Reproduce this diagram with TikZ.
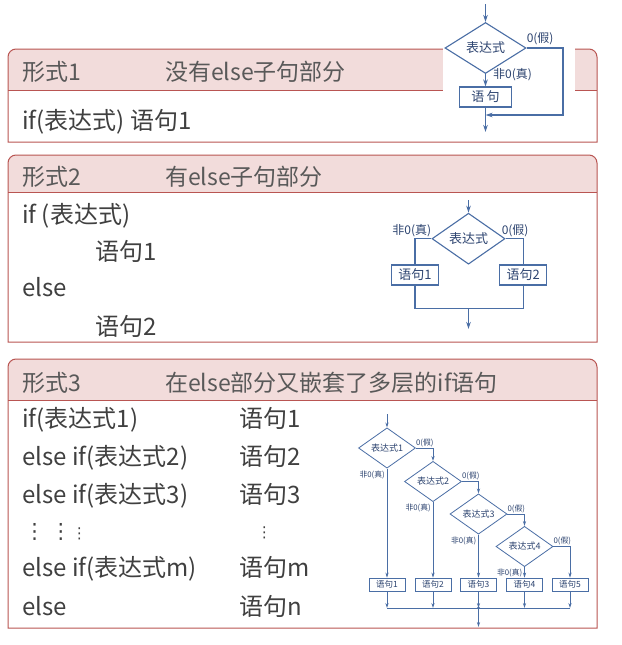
\documentclass[tikz,border=0pt]{standalone}
\usepackage{fontspec}
\setmainfont{Noto Sans CJK SC}
\newfontfamily\dv{DejaVu Sans}
\usetikzlibrary{shapes.geometric,arrows.meta}
\definecolor{hdrfill}{RGB}{242,220,219}
\definecolor{bordc}{RGB}{185,85,82}
\definecolor{hdrtxt}{RGB}{89,89,89}
\definecolor{bodytxt}{RGB}{64,64,64}
\definecolor{fcline}{RGB}{74,110,165}
\definecolor{fctxt}{RGB}{45,68,112}
\newcommand\secbox[3]{%
  \fill[hdrfill] (8,#2) -- (8,#1+8) arc[start angle=180,end angle=270,radius=8] -- (589,#1) arc[start angle=270,end angle=360,radius=8] -- (597,#2) -- cycle;
  \draw[bordc,line width=1pt] (8,#3) -- (8,#1+8) arc[start angle=180,end angle=270,radius=8] -- (589,#1) arc[start angle=270,end angle=360,radius=8] -- (597,#3) -- cycle;
  \draw[bordc,line width=1pt] (8,#2) -- (597,#2);}
\newcommand\vdotsglyph{\makebox[0pt]{⋮}}
\tikzset{
  hdr/.style={anchor=base west,text=hdrtxt,font=\fontsize{23}{26}\selectfont,inner sep=0},
  body/.style={anchor=base west,text=bodytxt,font=\fontsize{24}{27}\selectfont,inner sep=0},
  dots/.style={text=bodytxt,inner sep=0},
  fc/.style={draw=fcline,line width=1.1pt},
  fcs/.style={draw=fcline,line width=0.8pt},
  dia/.style={diamond,draw=fcline,line width=1.1pt,inner sep=0,text=fctxt,font=\fontsize{13}{14}\selectfont},
  dias/.style={diamond,draw=fcline,line width=0.8pt,inner sep=0,text=fctxt,font=\fontsize{9}{10}\selectfont,minimum width=57pt,minimum height=30pt},
  stmt/.style={rectangle,draw=fcline,line width=1.1pt,inner sep=0,text=fctxt,font=\fontsize{13}{14}\selectfont,minimum height=20pt},
  stmts/.style={rectangle,draw=fcline,line width=0.8pt,inner sep=0,text=fctxt,font=\fontsize{8.5}{9}\selectfont,minimum width=36pt,minimum height=13pt},
  arr/.style={fc,-{Stealth[length=7pt,width=4.5pt]}},
  arrs/.style={fcs,-{Stealth[length=5pt,width=3.2pt]}},
  lbl/.style={inner sep=0,text=fctxt,font=\fontsize{12}{13}\selectfont},
  lbls/.style={inner sep=0,text=fctxt,font=\fontsize{7.8}{8}\selectfont},
}
\begin{document}
\begin{tikzpicture}[x=1pt,y=-1pt]
\useasboundingbox[fill=white] (0,0) rectangle (621,645);
% ---------- section boxes
\secbox{49}{90}{142}
\secbox{155}{192}{342}
\secbox{359}{400}{628}
\fill[white] (443,0) rectangle (575,136);
% ---------- section 1 text
\node[hdr] (h1a) at (22,80.7) {形式1};
\node[hdr] (h1b) at (165,80.7) {没有else子句部分};
\node[body] (t1) at (22,129.3) {if(表达式) 语句1};
% ---------- section 2 text
\node[hdr] (h2a) at (22,185.7) {形式2};
\node[hdr] (h2b) at (165,185.7) {有else子句部分};
\node[body] (t2a) at (22,223) {if (表达式)};
\node[body] (t2b) at (95.5,260) {语句1};
\node[body] (t2c) at (22,296.7) {else};
\node[body] (t2d) at (95.5,335) {语句2};
% ---------- section 3 text
\node[hdr] (h3a) at (22,391.7) {形式3};
\node[hdr] (h3b) at (165,391.7) {在else部分又嵌套了多层的if语句};
\node[body] (r1a) at (22,427.3) {if(表达式1)};
\node[body] (r1b) at (239,427.3) {语句1};
\node[body] (r2a) at (22,465) {else if(表达式2)};
\node[body] (r2b) at (239,465) {语句2};
\node[body] (r3a) at (22,503.3) {else if(表达式3)};
\node[body] (r3b) at (239,503.3) {语句3};
\node[dots,anchor=west,font=\dv\fontsize{21}{23}\selectfont] (v1) at (34.3,531.5)
  {\vdotsglyph\hspace{26.4pt}\vdotsglyph\hspace{18.4pt}{\fontsize{15}{17}\selectfont\vdotsglyph}};
\node[dots,anchor=center,font=\dv\fontsize{15}{17}\selectfont] (v4) at (264.3,533.3) {\vdotsglyph};
\node[body] (r4a) at (22,576.7) {else if(表达式m)};
\node[body] (r4b) at (239,576.7) {语句m};
\node[body] (r5a) at (22,615) {else};
\node[body] (r5b) at (239,615) {语句n};
% ---------- flowchart 1
\coordinate (s1) at (485.5,4);
\node[dia,minimum width=81pt,minimum height=32pt] (d1) at (485.5,48) {表达式};
\draw[arr] (s1) -- (d1.north);
\node[stmt,minimum width=52pt] (b1) at (485.5,97) {语\,句};
\draw[arr] (d1.south) -- (b1.north);
\coordinate (e1) at (485.5,132);
\draw[arr] (b1.south) -- (e1);
\coordinate (c1) at (563,115);
\coordinate (j1) at (485.5,115);
\draw[arr] (d1.east) -| (c1) -- (j1);
\node[lbl,anchor=south west] (l1a) at ([yshift=3pt]d1.east) {0(假)};
\node[lbl,anchor=west] (l1b) at (493,75) {非0(真)};
% ---------- flowchart 2
\coordinate (s2) at (468.5,200);
\node[dia,minimum width=73pt,minimum height=37pt] (d2) at (468.5,238.7) {表达式};
\draw[arr] (s2) -- (d2.north);
\node[stmt,minimum width=47pt] (b2l) at (415,275) {语句1};
\node[stmt,minimum width=47pt] (b2r) at (523.3,275) {语句2};
\draw[fc] (d2.west) -| (b2l.north);
\draw[fc] (d2.east) -| (b2r.north);
\coordinate (m2) at (468.5,308.3);
\draw[fc] (b2l.south) |- (m2) -| (b2r.south);
\coordinate (e2) at (468.5,329);
\draw[arr] (m2) -- (e2);
\node[lbl,anchor=south east] (l2a) at ([yshift=1.5pt]d2.west) {非0(真)};
\node[lbl,anchor=south west] (l2b) at ([xshift=-4pt,yshift=1.5pt]d2.east) {0(假)};
% ---------- flowchart 3
\coordinate (s3) at (387,414);
\node[dias] (d31) at (387,448) {表达式1};
\node[dias] (d32) at (433,481.5) {表达式2};
\node[dias] (d33) at (478.5,514) {表达式3};
\node[dias] (d34) at (524.5,546.5) {表达式4};
\node[stmts] (b31) at (387,584.5) {语句1};
\node[stmts] (b32) at (433,584.5) {语句2};
\node[stmts] (b33) at (478.5,584.5) {语句3};
\node[stmts] (b34) at (524.5,584.5) {语句4};
\node[stmts] (b35) at (570,584.5) {语句5};
\draw[arrs] (s3) -- (d31.north);
\draw[arrs] (d31.east) -| (d32.north);
\draw[arrs] (d32.east) -| (d33.north);
\draw[arrs] (d33.east) -| (d34.north);
\draw[arrs] (d34.east) -| (b35.north);
\draw[arrs] (d31.south) -- (b31.north);
\draw[arrs] (d32.south) -- (b32.north);
\draw[arrs] (d33.south) -- (b33.north);
\draw[arrs] (d34.south) -- (b34.north);
\coordinate (m31) at (387,608);
\coordinate (m32) at (433,608);
\coordinate (m33) at (478.5,608);
\coordinate (m34) at (524.5,608);
\coordinate (m35) at (570,608);
\draw[fcs] (m31) -- (m35);
\draw[arrs] (b31.south) -- (m31);
\draw[arrs] (b32.south) -- (m32);
\draw[arrs] (b33.south) -- (m33);
\draw[arrs] (b34.south) -- (m34);
\draw[arrs] (b35.south) -- (m35);
\fill[fcline] (m33) circle (1.6);
\coordinate (e3) at (478.5,627);
\draw[arrs] (m33) -- (e3);
\node[lbls,anchor=south west] (l31) at ([yshift=1pt]d31.east) {0(假)};
\node[lbls,anchor=south west] (l32) at ([yshift=1pt]d32.east) {0(假)};
\node[lbls,anchor=south west] (l33) at ([yshift=1pt]d33.east) {0(假)};
\node[lbls,anchor=south west] (l34) at ([yshift=1pt]d34.east) {0(假)};
\node[lbls,anchor=north east] (n31) at ([xshift=-2pt,yshift=-2pt]d31.south) {非0(真)};
\node[lbls,anchor=north east] (n32) at ([xshift=-2pt,yshift=-2pt]d32.south) {非0(真)};
\node[lbls,anchor=north east] (n33) at ([xshift=-2pt,yshift=-2pt]d33.south) {非0(真)};
\node[lbls,anchor=north east] (n34) at ([xshift=-2pt,yshift=-2pt]d34.south) {非0(真)};
\end{tikzpicture}
\end{document}
